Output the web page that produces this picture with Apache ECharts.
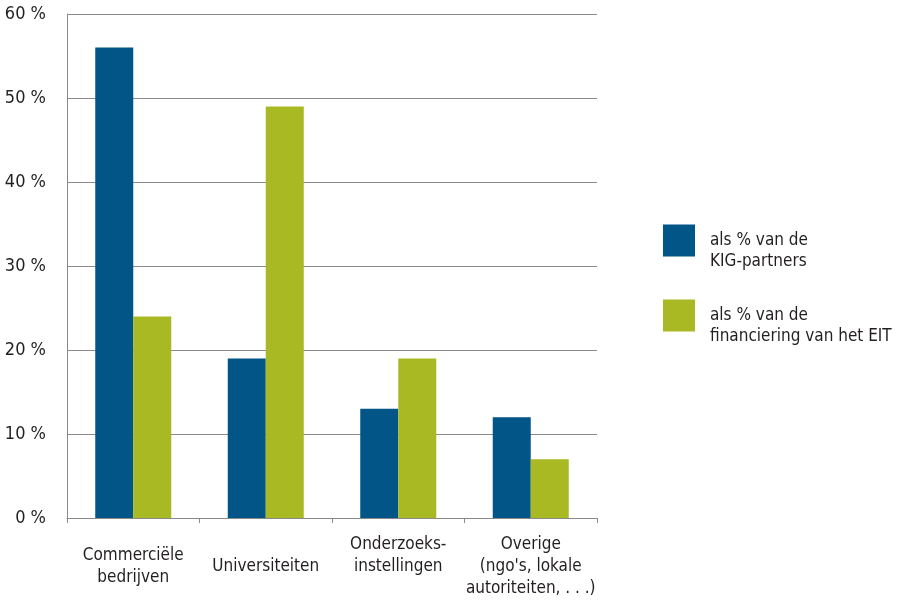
<!DOCTYPE html>
<html>
<head>
<meta charset="utf-8">
<script src="https://cdn.jsdelivr.net/npm/echarts@6/dist/echarts.min.js"></script>
<style>html,body{margin:0;padding:0;background:#fff;}#c{width:901px;height:600px;}</style>
</head>
<body>
<div id="c"></div>
<script>
var categories = ['Commerciële\nbedrijven', 'Universiteiten', 'Onderzoeks-\ninstellingen\n ', 'Overige\n(ngo\'s, lokale\nautoriteiten, . . .)'];
var seriesNames = ['als % van de\nKIG-partners', 'als % van de\nfinanciering van het EIT'];
var partners = [56, 19, 13, 12];
var funding = [24, 49, 19, 7];
var yTicks = [0, 10, 20, 30, 40, 50, 60];

var FONT = '"DejaVu Sans Condensed", "Liberation Sans Narrow", sans-serif';
var chart = echarts.init(document.getElementById('c'));
chart.setOption({
  animation: false,
  textStyle: { fontFamily: FONT },
  grid: { left: 67, right: 304, top: 14, bottom: 82, containLabel: false },
  legend: {
    orient: 'vertical',
    left: 658,
    top: 204,
    itemWidth: 32,
    itemHeight: 32,
    itemGap: 12,
    icon: 'rect',
    selectedMode: false,
    formatter: function (name) { return '\n' + name; },
    textStyle: { fontFamily: FONT, fontSize: 17, lineHeight: 21, color: '#231f20', padding: [0, 0, 0, 10] },
    data: seriesNames
  },
  xAxis: {
    type: 'category',
    data: categories,
    axisLine: { lineStyle: { color: '#8a8a8a', width: 1 } },
    axisTick: { show: true, length: 5, lineStyle: { color: '#8a8a8a' }, alignWithLabel: false },
    axisLabel: { fontFamily: FONT, fontSize: 17, lineHeight: 22, color: '#231f20', margin: 49, verticalAlign: 'middle', interval: 0 }
  },
  yAxis: {
    type: 'value',
    min: yTicks[0],
    max: yTicks[yTicks.length - 1],
    interval: 10,
    axisLine: { show: true, lineStyle: { color: '#8a8a8a', width: 1 } },
    axisTick: { show: false },
    splitLine: { show: true, lineStyle: { color: '#8a8a8a', width: 1 } },
    axisLabel: { fontFamily: FONT, fontSize: 18, color: '#231f20', margin: 21, formatter: function (v) { return v + ' %'; } }
  },
  series: [
    { name: seriesNames[0], type: 'bar', data: partners, barWidth: 38, barGap: '0%', itemStyle: { color: '#015587' } },
    { name: seriesNames[1], type: 'bar', data: funding, barWidth: 38, barGap: '0%', itemStyle: { color: '#a9b923' } }
  ]
});
</script>
</body>
</html>
